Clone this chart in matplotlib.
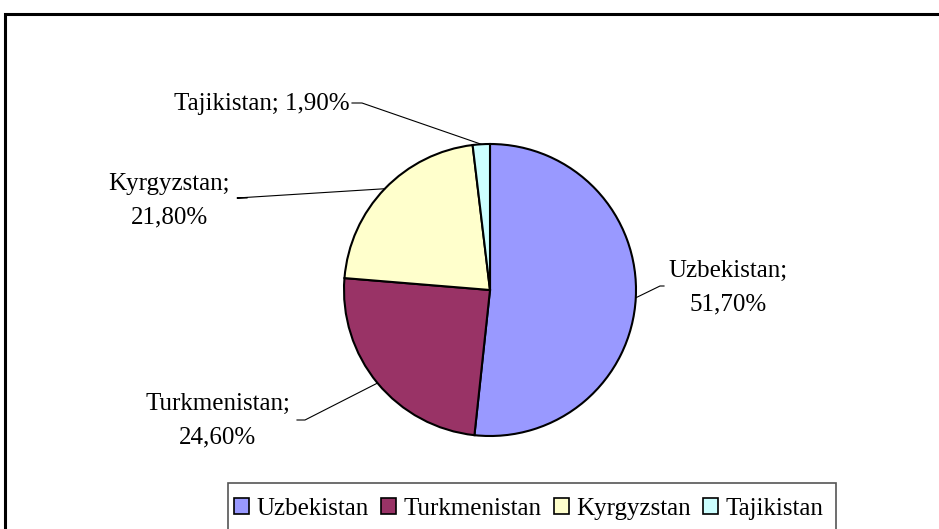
import numpy as np
import matplotlib
matplotlib.use("Agg")
import matplotlib.pyplot as plt
from matplotlib.patches import Rectangle, Patch

countries = ["Uzbekistan", "Turkmenistan", "Kyrgyzstan", "Tajikistan"]
shares = [51.7, 24.6, 21.8, 1.9]
labels = ["Uzbekistan;\n51,70%", "Turkmenistan;\n24,60%", "Kyrgyzstan;\n21,80%", "Tajikistan; 1,90%"]
colors = ["#9999FF", "#993366", "#FFFFCC", "#CCFFFF"]

W, H = 939, 529
plt.rcParams['font.family'] = ['Liberation Serif', 'DejaVu Serif']
fig = plt.figure(figsize=(W / 100, H / 100), dpi=100)
ax = fig.add_axes([0, 0, 1, 1])

cx, cy, r = 490, H - 290, 146
wedges, _ = ax.pie(shares, colors=colors, startangle=90, counterclock=False,
                   center=(cx, cy), radius=r, frame=True,
                   wedgeprops=dict(edgecolor='black', linewidth=1.5))
ax.set_xlim(0, W)
ax.set_ylim(0, H)
ax.set_aspect('equal')
ax.axis('off')

# label layout: (text x, text y, elbow x, elbow y, tail x) in pixel coords (y from top)
layout = {
    "Uzbekistan": (728, 288, 660, 286, 664),
    "Turkmenistan": (218, 421, 305, 420, 297),
    "Kyrgyzstan": (169, 201, 237, 198, 247),
    "Tajikistan": (262, 104, 362, 103, 352),
}
for w, name, lab in zip(wedges, countries, labels):
    tx, ty, ex, ey, tail = layout[name]
    mid = np.deg2rad((w.theta1 + w.theta2) / 2)
    px, py = cx + r * np.cos(mid), cy + r * np.sin(mid)
    ax.plot([px, ex, tail], [py, H - ey, H - ey], color='black', lw=0.8, zorder=1)
    ax.text(tx, H - ty, lab, ha='center', va='center', fontsize=18,
            linespacing=1.7, color='black')

# figure border
fig.patches.append(Rectangle((5 / W, -0.05), 1.05, (H - 14) / H + 0.05,
                             transform=fig.transFigure, fill=False,
                             edgecolor='black', linewidth=2.2))
# legend frame
fig.patches.append(Rectangle((228 / W, -0.05), (836 - 228) / W, (H - 483) / H + 0.05,
                             transform=fig.transFigure, fill=False,
                             edgecolor='#555555', linewidth=1.2))

handles = [Patch(facecolor=c, edgecolor='black', linewidth=1.2) for c in colors]
leg = fig.legend(handles, countries, loc='center left',
                 bbox_to_anchor=(226 / W, 1 - 509 / H), ncol=4, fontsize=18,
                 frameon=False,
                 handlelength=0.6, handleheight=0.6, handletextpad=0.3,
                 columnspacing=0.5, borderpad=0.3, borderaxespad=0)

fig.savefig("out.png", dpi=100)
